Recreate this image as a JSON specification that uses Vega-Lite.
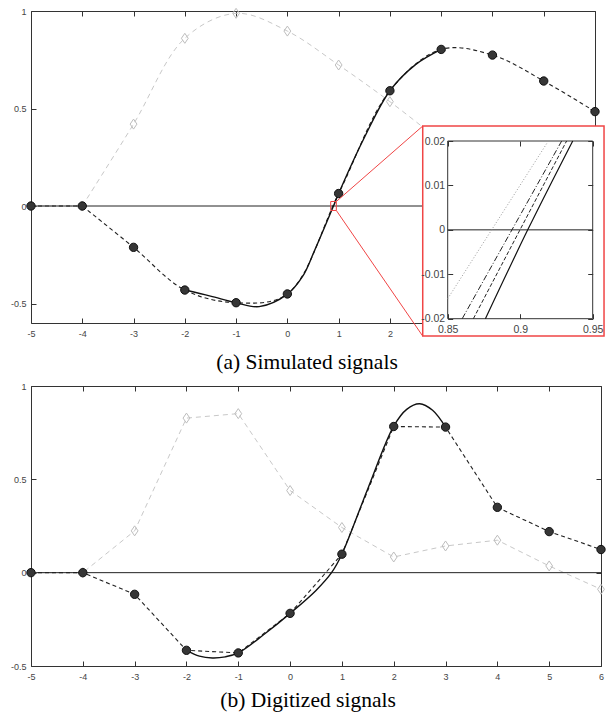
{
  "$schema": "https://vega.github.io/schema/vega-lite/v6.json",
  "padding": {"left": 9, "top": 5, "right": 0, "bottom": 0},
  "background": "white",
  "spacing": 63,
  "bounds": "flush",
  "config": {
    "view": {"stroke": "#333", "strokeWidth": 1},
    "axis": {"labelFont": "Liberation Sans", "labelFontSize": 9, "labelColor": "#444", "tickColor": "#333", "domain": false, "grid": false, "tickSize": -5, "labelPadding": 11, "labelFlush": false, "labelOverlap": false},
    "title": {"font": "Liberation Serif", "fontSize": 21.5, "fontWeight": "normal", "color": "#000"}
  },
  "datasets": {
    "a_black": [
      {"x": -5, "y": 0}, {"x": -4, "y": 0}, {"x": -3, "y": -0.212}, {"x": -2, "y": -0.431},
      {"x": -1, "y": -0.496}, {"x": 0, "y": -0.451}, {"x": 1, "y": 0.064}, {"x": 2, "y": 0.591},
      {"x": 3, "y": 0.803}, {"x": 4, "y": 0.774}, {"x": 5, "y": 0.641}, {"x": 6, "y": 0.484}
    ],
    "a_solid": [
      {"x": -2, "y": -0.431}, {"x": -1.5, "y": -0.462}, {"x": -1, "y": -0.496}, {"x": -0.55, "y": -0.516},
      {"x": 0, "y": -0.452}, {"x": 0.3, "y": -0.36}, {"x": 0.52, "y": -0.235}, {"x": 0.9, "y": 0},
      {"x": 1, "y": 0.064}, {"x": 1.5, "y": 0.35}, {"x": 2, "y": 0.591}, {"x": 2.5, "y": 0.725}, {"x": 3, "y": 0.803}
    ],
    "a_gray": [
      {"x": -5, "y": 0}, {"x": -4, "y": 0}, {"x": -3, "y": 0.42}, {"x": -2, "y": 0.86},
      {"x": -1, "y": 0.988}, {"x": 0, "y": 0.897}, {"x": 1, "y": 0.723}, {"x": 2, "y": 0.535},
      {"x": 3, "y": 0.33}, {"x": 4, "y": 0.12}
    ],
    "a_zoom": [{"x": 0.845, "x2": 0.955, "y": -0.023, "y2": 0.023}],
    "a_links": [
      {"x": 0.955, "y": 0.023, "x2": 2.64, "y2": 0.41},
      {"x": 0.955, "y": -0.023, "x2": 2.64, "y2": -0.667}
    ],
    "a_box": [{"x": 2.64, "x2": 6.176, "y": -0.667, "y2": 0.41}],
    "inset_frame": [{"x": 0.85, "x2": 0.95, "y": -0.02, "y2": 0.02}],
    "inset_lines": [
      {"s": "zero", "x": 0.85, "y": 0}, {"s": "zero", "x": 0.95, "y": 0},
      {"s": "dot", "x": 0.85, "y": -0.0155}, {"s": "dot", "x": 0.9194, "y": 0.02},
      {"s": "dashdot", "x": 0.86, "y": -0.02}, {"s": "dashdot", "x": 0.9286, "y": 0.02},
      {"s": "dash", "x": 0.8677, "y": -0.02}, {"s": "dash", "x": 0.932, "y": 0.02},
      {"s": "solid", "x": 0.876, "y": -0.02}, {"s": "solid", "x": 0.9052, "y": 0}, {"s": "solid", "x": 0.9362, "y": 0.02}
    ],
    "b_black": [
      {"x": -5, "y": 0}, {"x": -4, "y": 0}, {"x": -3, "y": -0.116}, {"x": -2, "y": -0.416},
      {"x": -1, "y": -0.43}, {"x": 0, "y": -0.218}, {"x": 1, "y": 0.099}, {"x": 2, "y": 0.783},
      {"x": 3, "y": 0.78}, {"x": 4, "y": 0.35}, {"x": 5, "y": 0.22}, {"x": 6, "y": 0.124}
    ],
    "b_gray": [
      {"x": -5, "y": 0}, {"x": -4, "y": 0}, {"x": -3, "y": 0.224}, {"x": -2, "y": 0.828},
      {"x": -1, "y": 0.852}, {"x": 0, "y": 0.44}, {"x": 1, "y": 0.242}, {"x": 2, "y": 0.084},
      {"x": 3, "y": 0.143}, {"x": 4, "y": 0.174}, {"x": 5, "y": 0.036}, {"x": 6, "y": -0.089}
    ],
    "b_solid": [
      {"x": -2, "y": -0.416}, {"x": -1.75, "y": -0.447}, {"x": -1.5, "y": -0.457}, {"x": -1.25, "y": -0.451},
      {"x": -1, "y": -0.43}, {"x": -0.5, "y": -0.33}, {"x": 0, "y": -0.218}, {"x": 0.5, "y": -0.095},
      {"x": 0.8, "y": 0}, {"x": 1, "y": 0.099}, {"x": 1.5, "y": 0.45}, {"x": 2, "y": 0.785},
      {"x": 2.25, "y": 0.875}, {"x": 2.5, "y": 0.905}, {"x": 2.75, "y": 0.87}, {"x": 3, "y": 0.78}
    ]
  },
  "vconcat": [
    {
      "width": 564,
      "height": 312,
      "title": {"text": "(a) Simulated signals", "orient": "bottom", "anchor": "middle", "dx": -6, "offset": 14},
      "resolve": {"scale": {"x": "independent", "y": "independent"}, "axis": {"x": "independent", "y": "independent"}},
      "layer": [
        {
          "resolve": {"axis": {"x": "independent", "y": "independent"}},
          "layer": [
            {
              "data": {"name": "a_gray"},
              "transform": [{"filter": "datum.x >= -4"}],
              "mark": {"type": "line", "interpolate": "catmull-rom", "color": "#c8c8c8", "strokeWidth": 1, "strokeDash": [5, 4]},
              "encoding": {
                "x": {"field": "x", "type": "quantitative", "scale": {"domain": [-5, 6], "nice": false, "zero": false},
                      "axis": {"orient": "bottom", "title": null, "values": [-5, -4, -3, -2, -1, 0, 1, 2, 3, 4, 5, 6], "labelExpr": "datum.value > 2 ? '' : '' + datum.value", "zindex": 0}},
                "y": {"field": "y", "type": "quantitative", "scale": {"domain": [-0.6, 1], "nice": false, "zero": false},
                      "axis": {"orient": "left", "title": null, "values": [-0.5, 0, 0.5, 1], "labelExpr": "'' + datum.value", "zindex": 0, "labelPadding": 10}}
              }
            },
            {
              "data": {"name": "a_gray"},
              "transform": [{"filter": "datum.x <= -4"}],
              "mark": {"type": "line", "color": "#c8c8c8", "strokeWidth": 1, "strokeDash": [5, 4]},
              "encoding": {
                "x": {"field": "x", "type": "quantitative", "axis": {"orient": "top", "title": null, "labels": false, "values": [-5, -4, -3, -2, -1, 0, 1, 2, 3, 4, 5, 6], "zindex": 0}},
                "y": {"field": "y", "type": "quantitative", "axis": {"orient": "right", "title": null, "labels": false, "values": [-0.5, 0, 0.5, 1], "zindex": 0}}
              }
            },
            {
              "data": {"name": "a_gray"},
              "transform": [{"filter": "datum.x > -5"}],
              "mark": {"type": "point", "shape": "M0,-1L0.68,0L0,1L-0.68,0Z", "filled": false, "stroke": "#bdbdbd", "strokeWidth": 1, "size": 100, "opacity": 1},
              "encoding": {"x": {"field": "x", "type": "quantitative", "axis": null}, "y": {"field": "y", "type": "quantitative", "axis": null}}
            },
            {
              "data": {"values": [{"v": 0}]},
              "mark": {"type": "rule", "color": "#222", "strokeWidth": 1},
              "encoding": {"y": {"field": "v", "type": "quantitative", "axis": null}}
            },
            {
              "data": {"name": "a_black"},
              "transform": [{"filter": "datum.x <= -4"}],
              "mark": {"type": "line", "color": "#222", "strokeWidth": 1.1, "strokeDash": [4, 3]},
              "encoding": {"x": {"field": "x", "type": "quantitative", "axis": null}, "y": {"field": "y", "type": "quantitative", "axis": null}}
            },
            {
              "data": {"name": "a_black"},
              "transform": [{"filter": "datum.x >= -4"}],
              "mark": {"type": "line", "interpolate": "catmull-rom", "color": "#222", "strokeWidth": 1.1, "strokeDash": [4, 3]},
              "encoding": {"x": {"field": "x", "type": "quantitative", "axis": null}, "y": {"field": "y", "type": "quantitative", "axis": null}}
            },
            {
              "data": {"name": "a_solid"},
              "mark": {"type": "line", "interpolate": "catmull-rom", "color": "#111", "strokeWidth": 1.4},
              "encoding": {"x": {"field": "x", "type": "quantitative", "axis": null}, "y": {"field": "y", "type": "quantitative", "axis": null}}
            },
            {
              "data": {"name": "a_black"},
              "mark": {"type": "point", "shape": "circle", "filled": true, "fill": "#363636", "stroke": "#111", "strokeWidth": 1, "size": 70, "opacity": 1},
              "encoding": {"x": {"field": "x", "type": "quantitative", "axis": null}, "y": {"field": "y", "type": "quantitative", "axis": null}}
            },
            {
              "data": {"name": "a_zoom"},
              "mark": {"type": "rect", "fill": null, "fillOpacity": 0, "stroke": "#f04545", "strokeWidth": 1},
              "encoding": {"x": {"field": "x", "type": "quantitative", "axis": null}, "x2": {"field": "x2"}, "y": {"field": "y", "type": "quantitative", "axis": null}, "y2": {"field": "y2"}}
            },
            {
              "data": {"name": "a_links"},
              "mark": {"type": "rule", "color": "#f04545", "strokeWidth": 1},
              "encoding": {"x": {"field": "x", "type": "quantitative", "axis": null}, "x2": {"field": "x2"}, "y": {"field": "y", "type": "quantitative", "axis": null}, "y2": {"field": "y2"}}
            },
            {
              "data": {"name": "a_box"},
              "mark": {"type": "rect", "fill": "white", "stroke": "#f04545", "strokeWidth": 1.5},
              "encoding": {"x": {"field": "x", "type": "quantitative", "axis": null}, "x2": {"field": "x2"}, "y": {"field": "y", "type": "quantitative", "axis": null}, "y2": {"field": "y2"}}
            }
          ]
        },
        {
          "resolve": {"axis": {"x": "independent", "y": "independent"}},
          "layer": [
            {
              "data": {"name": "inset_frame"},
              "mark": {"type": "rect", "fill": null, "fillOpacity": 0, "stroke": "#333", "strokeWidth": 1},
              "encoding": {
                "x": {"field": "x", "type": "quantitative", "scale": {"domain": [0.85, 0.95], "range": [416.7, 561.7], "nice": false, "zero": false},
                      "axis": {"orient": "bottom", "offset": -4.3, "title": null, "values": [0.85, 0.9, 0.95], "labelExpr": "'' + datum.value", "zindex": 2, "labelFontSize": 10.5, "labelPadding": 11}},
                "x2": {"field": "x2"},
                "y": {"field": "y", "type": "quantitative", "scale": {"domain": [-0.02, 0.02], "range": [307.7, 130], "nice": false, "zero": false},
                      "axis": {"orient": "left", "offset": -416.7, "title": null, "values": [-0.02, -0.01, 0, 0.01, 0.02], "labelExpr": "'' + datum.value", "zindex": 2, "labelFontSize": 10.5, "labelPadding": 8}},
                "y2": {"field": "y2"}
              }
            },
            {
              "data": {"name": "inset_lines"},
              "transform": [{"filter": "datum.s == 'zero'"}],
              "mark": {"type": "line", "color": "#222", "strokeWidth": 1},
              "encoding": {
                "x": {"field": "x", "type": "quantitative", "axis": {"orient": "top", "offset": -130, "title": null, "labels": false, "values": [0.85, 0.9, 0.95], "zindex": 2}},
                "y": {"field": "y", "type": "quantitative", "axis": {"orient": "right", "offset": -2.3, "title": null, "labels": false, "values": [-0.02, -0.01, 0, 0.01, 0.02], "zindex": 2}}
              }
            },
            {
              "data": {"name": "inset_lines"},
              "transform": [{"filter": "datum.s == 'dot'"}],
              "mark": {"type": "line", "color": "#999", "strokeWidth": 1, "strokeDash": [1, 2]},
              "encoding": {"x": {"field": "x", "type": "quantitative", "axis": null}, "y": {"field": "y", "type": "quantitative", "axis": null}}
            },
            {
              "data": {"name": "inset_lines"},
              "transform": [{"filter": "datum.s == 'dashdot'"}],
              "mark": {"type": "line", "color": "#222", "strokeWidth": 1, "strokeDash": [6, 2, 1, 2]},
              "encoding": {"x": {"field": "x", "type": "quantitative", "axis": null}, "y": {"field": "y", "type": "quantitative", "axis": null}}
            },
            {
              "data": {"name": "inset_lines"},
              "transform": [{"filter": "datum.s == 'dash'"}],
              "mark": {"type": "line", "color": "#222", "strokeWidth": 1, "strokeDash": [4, 2]},
              "encoding": {"x": {"field": "x", "type": "quantitative", "axis": null}, "y": {"field": "y", "type": "quantitative", "axis": null}}
            },
            {
              "data": {"name": "inset_lines"},
              "transform": [{"filter": "datum.s == 'solid'"}],
              "mark": {"type": "line", "interpolate": "monotone", "color": "#111", "strokeWidth": 1.2},
              "encoding": {"x": {"field": "x", "type": "quantitative", "axis": null}, "y": {"field": "y", "type": "quantitative", "axis": null}}
            }
          ]
        }
      ]
    },
    {
      "width": 570,
      "height": 280,
      "title": {"text": "(b) Digitized signals", "orient": "bottom", "anchor": "middle", "dx": -8, "offset": 9},
      "resolve": {"axis": {"x": "independent", "y": "independent"}},
      "layer": [
        {
          "data": {"name": "b_gray"},
          "mark": {"type": "line", "color": "#c8c8c8", "strokeWidth": 1, "strokeDash": [5, 4]},
          "encoding": {
            "x": {"field": "x", "type": "quantitative", "scale": {"domain": [-5, 6], "nice": false, "zero": false},
                  "axis": {"orient": "bottom", "title": null, "values": [-5, -4, -3, -2, -1, 0, 1, 2, 3, 4, 5, 6], "labelExpr": "'' + datum.value"}},
            "y": {"field": "y", "type": "quantitative", "scale": {"domain": [-0.5, 1], "nice": false, "zero": false},
                  "axis": {"orient": "left", "title": null, "values": [-0.5, 0, 0.5, 1], "labelExpr": "'' + datum.value", "labelPadding": 10}}
          }
        },
        {
          "data": {"name": "b_gray"},
          "transform": [{"filter": "datum.x > -5"}],
          "mark": {"type": "point", "shape": "M0,-1L0.68,0L0,1L-0.68,0Z", "filled": false, "stroke": "#bdbdbd", "strokeWidth": 1, "size": 100, "opacity": 1},
          "encoding": {
            "x": {"field": "x", "type": "quantitative", "axis": {"orient": "top", "title": null, "labels": false, "values": [-5, -4, -3, -2, -1, 0, 1, 2, 3, 4, 5, 6]}},
            "y": {"field": "y", "type": "quantitative", "axis": {"orient": "right", "title": null, "labels": false, "values": [-0.5, 0, 0.5, 1]}}
          }
        },
        {
          "data": {"values": [{"v": 0}]},
          "mark": {"type": "rule", "color": "#222", "strokeWidth": 1},
          "encoding": {"y": {"field": "v", "type": "quantitative", "axis": null}}
        },
        {
          "data": {"name": "b_black"},
          "mark": {"type": "line", "color": "#222", "strokeWidth": 1.1, "strokeDash": [4, 3]},
          "encoding": {"x": {"field": "x", "type": "quantitative", "axis": null}, "y": {"field": "y", "type": "quantitative", "axis": null}}
        },
        {
          "data": {"name": "b_solid"},
          "mark": {"type": "line", "interpolate": "catmull-rom", "color": "#111", "strokeWidth": 1.4},
          "encoding": {"x": {"field": "x", "type": "quantitative", "axis": null}, "y": {"field": "y", "type": "quantitative", "axis": null}}
        },
        {
          "data": {"name": "b_black"},
          "mark": {"type": "point", "shape": "circle", "filled": true, "fill": "#363636", "stroke": "#111", "strokeWidth": 1, "size": 70, "opacity": 1},
          "encoding": {"x": {"field": "x", "type": "quantitative", "axis": null}, "y": {"field": "y", "type": "quantitative", "axis": null}}
        }
      ]
    }
  ]
}
